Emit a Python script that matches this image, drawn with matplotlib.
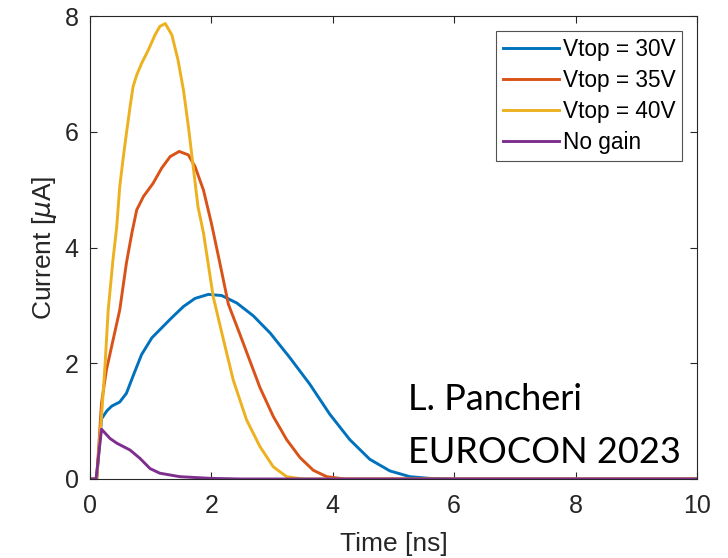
import numpy as np
import matplotlib.pyplot as plt

# time axis [ns] and current [uA] for each bias condition
t_30 = [0, 0.11, 0.19, 0.28, 0.36, 0.49, 0.60, 0.71, 0.85, 1.02, 1.18, 1.35, 1.54,
        1.73, 1.95, 2.17, 2.42, 2.69, 2.97, 3.29, 3.62, 3.95, 4.28, 4.61, 4.94, 5.27,
        5.6, 6.0, 10]
i_30 = [0, 0, 1.04, 1.18, 1.26, 1.33, 1.48, 1.78, 2.15, 2.44, 2.61, 2.79, 2.98,
        3.12, 3.19, 3.17, 3.04, 2.82, 2.52, 2.10, 1.64, 1.12, 0.68, 0.34, 0.14, 0.04,
        0.01, 0, 0]

t_35 = [0, 0.11, 0.19, 0.27, 0.38, 0.49, 0.60, 0.69, 0.77, 0.88, 1.04, 1.18, 1.32,
        1.47, 1.62, 1.73, 1.87, 2.0, 2.14, 2.28, 2.47, 2.80, 3.02, 3.24, 3.46, 3.68,
        3.90, 4.2, 10]
i_35 = [0, 0, 1.31, 1.88, 2.40, 2.92, 3.73, 4.25, 4.65, 4.88, 5.11, 5.37, 5.57,
        5.66, 5.60, 5.40, 4.99, 4.42, 3.73, 3.02, 2.50, 1.58, 1.08, 0.68, 0.37, 0.15,
        0.04, 0, 0]

t_40 = [0, 0.11, 0.19, 0.25, 0.30, 0.38, 0.44, 0.49, 0.55, 0.60, 0.66, 0.71, 0.77,
        0.85, 0.96, 1.07, 1.15, 1.24, 1.35, 1.45, 1.54, 1.62, 1.70, 1.78, 1.87, 2.03,
        2.20, 2.36, 2.58, 2.80, 3.02, 3.24, 3.5, 10]
i_40 = [0, 0, 1.08, 2.0, 2.92, 3.80, 4.35, 5.05, 5.57, 5.97, 6.43, 6.78, 6.98,
        7.18, 7.41, 7.67, 7.82, 7.87, 7.67, 7.24, 6.72, 6.10, 5.40, 4.70, 4.25, 3.15,
        2.40, 1.71, 1.02, 0.56, 0.21, 0.04, 0, 0]

t_ng = [0, 0.1, 0.19, 0.33, 0.44, 0.66, 0.82, 0.99, 1.15, 1.48, 2.0, 2.5, 10]
i_ng = [0, 0, 0.86, 0.70, 0.62, 0.50, 0.36, 0.18, 0.10, 0.04, 0.01, 0, 0]

labels = ['Vtop = 30V', 'Vtop = 35V', 'Vtop = 40V', 'No gain']
colors = ['#0072BD', '#D95319', '#EDB120', '#7E2F8E']

plt.rcParams['font.family'] = ['Liberation Sans', 'DejaVu Sans']

fig = plt.figure(figsize=(7.28, 5.58), dpi=100)
ax = fig.add_axes([0.1236, 0.1416, 0.8338, 0.8297])

series = [(t_30, i_30), (t_35, i_35), (t_40, i_40), (t_ng, i_ng)]
for (t, i), lab, c in zip(series, labels, colors):
    ax.plot(t, i, color=c, lw=2.1, label=lab, solid_joinstyle='round')

ax.set_xlim(0, 10)
ax.set_ylim(0, 8)
ax.set_xticks(np.arange(0, 11, 2))
ax.set_yticks(np.arange(0, 9, 2))
ax.tick_params(direction='in', length=5, width=0.8, top=True, right=True,
               labelsize=18, colors='#262626')
ax.tick_params(axis='x', pad=11)
ax.tick_params(axis='y', pad=8)
for s in ax.spines.values():
    s.set_color('#262626')
    s.set_linewidth(0.8)

ax.set_xlabel('Time [ns]', fontsize=19, color='#262626', labelpad=10)
ax.set_ylabel(r'Current [$\mu$A]', fontsize=19, color='#262626', labelpad=4)

leg = ax.legend(loc='upper right', fontsize=16.3, frameon=True, fancybox=False,
                edgecolor='#262626', handlelength=2.5, handletextpad=0.15,
                borderaxespad=0.68, labelspacing=0.36, borderpad=0.28)
leg.get_frame().set_linewidth(0.8)

note_font = ['Lato', 'DejaVu Sans']
ax.text(5.24, 1.19, 'L. Pancheri', fontsize=26, family=note_font,
        va='baseline', ha='left')
ax.text(5.24, 0.28, 'EUROCON 2023', fontsize=26, family=note_font,
        va='baseline', ha='left')

fig.savefig('out.png', dpi=100)
